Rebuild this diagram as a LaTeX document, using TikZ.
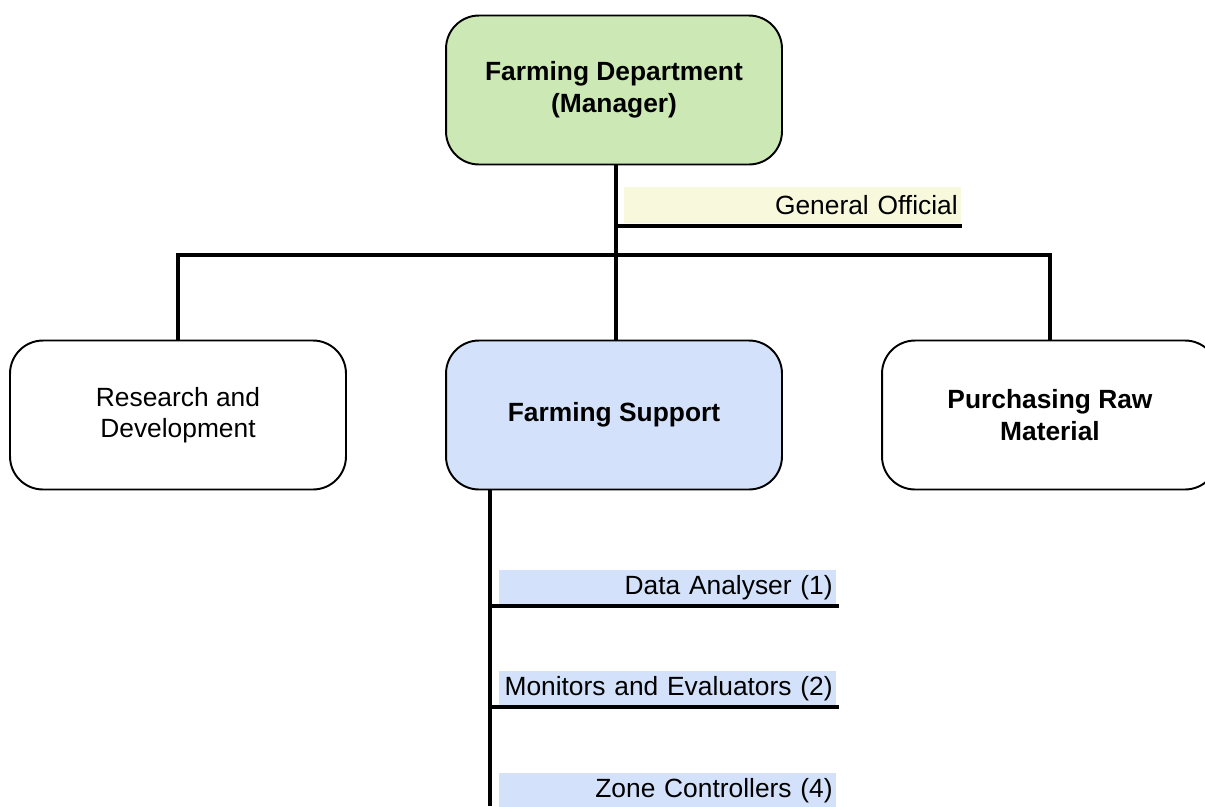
\documentclass[tikz,border=0pt]{standalone}
\usepackage{fontspec}
\setmainfont{Liberation Sans}
\usepackage{tikz}
\usetikzlibrary{calc}

\definecolor{mgrgreen}{RGB}{204,232,181}
\definecolor{supblue}{RGB}{211,226,250}
\definecolor{postyellow}{RGB}{248,248,220}

\begin{document}
\begin{tikzpicture}[x=0.02cm,y=-0.02cm,
	unit/.style={draw,line width=1.1pt,rounded corners=0.66cm,minimum width=6.72cm,minimum height=2.98cm,align=center,font=\fontsize{15}{18}\selectfont},
	post/.style={fill=#1,minimum width=6.74cm,minimum height=0.72cm,text width=6.62cm,inner xsep=0.06cm,inner ysep=0pt,align=right,anchor=south east,font=\fontsize{15}{18}\selectfont},
	link/.style={line width=2.8pt}]
\useasboundingbox (0,0) rectangle (1205,806);

%units
\node[unit,fill=mgrgreen] (mgr) at (614,90) {\bfseries Farming Department\\\bfseries (Manager)};
\node[unit] (rd) at (178,415) {Research and\\Development};
\node[unit,fill=supblue] (sup) at (614,415) {\bfseries Farming Support};
\node[unit] (raw) at (1050,415) {\bfseries Purchasing Raw\\\bfseries Material};

%posts
\node[post=postyellow] (gen) at (961,223) {General Official};
\foreach \y/\n/\txt in {606/da/Data Analyser (1),707/me/Monitors and Evaluators (2),809/zc/Zone Controllers (4)}
	\node[post=supblue] (\n) at (836,\y) {\txt};

%edges
\coordinate (hub) at (616,255);
\coordinate (goend) at (962,226);
\coordinate (subend) at (490,806);
\draw[link] (mgr.south -| hub) -- (sup.north -| hub);
\draw[link] (rd.north) |- (hub) -| (raw.north);
\draw[link] (goend -| hub) -- (goend);
\draw[link] (sup.south -| subend) -- (subend);
\foreach \n in {da,me}
	\draw[link] (\n.south -| subend) -- ($(\n.south east)+(3,0)$);
\end{tikzpicture}
\end{document}
